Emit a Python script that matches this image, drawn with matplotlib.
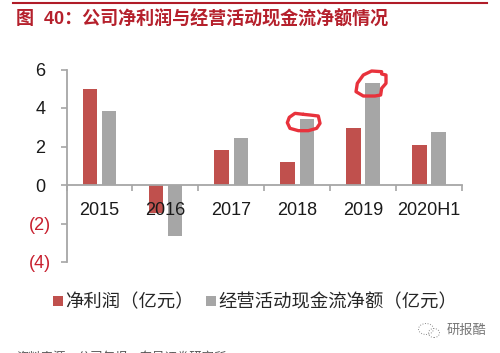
import matplotlib
matplotlib.use("Agg")
import matplotlib.pyplot as plt
from matplotlib.patches import Ellipse
import numpy as np

categories = ["2015", "2016", "2017", "2018", "2019", "2020H1"]
net_profit = [5.0, -1.45, 1.82, 1.21, 2.98, 2.10]
op_cash_flow = [3.84, -2.63, 2.44, 3.43, 5.30, 2.75]
y_ticks = [6, 4, 2, 0, -2, -4]
y_labels = ["6 ", "4 ", "2 ", "0 ", "(2)", "(4)"]
y_label_colors = ["#1a1a1a"] * 4 + ["#c8202f"] * 2
series_names = ["净利润（亿元）", "经营活动现金流净额（亿元）"]
title = "图  40：公司净利润与经营活动现金流净额情况"
source = "资料来源：公司年报，东吴证券研究所"
watermark = "研报酷"

# hand-drawn red loops around two bars, in data units
loop_2018_x = [3.093, 2.966, 2.880, 2.850, 2.890, 3.017, 3.169, 3.295, 3.346, 3.320, 3.194, 3.093]
loop_2018_y = [3.671, 3.723, 3.515, 3.238, 2.944, 2.822, 2.822, 2.944, 3.203, 3.584, 3.636, 3.671]
loop_2019_x = [4.281, 4.129, 4.003, 3.912, 3.892, 4.003, 4.180, 4.266, 4.281, 4.347, 4.347, 4.281]
loop_2019_y = [5.887, 5.922, 5.714, 5.281, 4.848, 4.623, 4.623, 4.675, 5.022, 5.281, 5.714, 5.766]

plt.rcParams["font.family"] = ["Liberation Sans", "Noto Sans CJK SC", "DejaVu Sans"]

W, H = 500, 353
fig = plt.figure(figsize=(W / 100, H / 100), dpi=100)
ax = fig.add_axes([66.5 / W, 1 - 262 / H, (462 - 66.5) / W, (262 - 69.5) / H])

x = np.arange(len(categories))
bw = 0.22
b1 = ax.bar(x - 0.145, net_profit, bw, color="#c0504d", zorder=2, label=series_names[0])
b2 = ax.bar(x + 0.145, op_cash_flow, bw, color="#a6a6a6", zorder=2, label=series_names[1])

ax.set_axisbelow(False)
ax.set_xlim(-0.5, len(categories) - 0.5)
ax.set_ylim(-4, 6)
for s in ("top", "right"):
    ax.spines[s].set_visible(False)
for s in ("left", "bottom"):
    ax.spines[s].set_color("#a6a6a6")
    ax.spines[s].set_linewidth(1.3)
ax.spines["bottom"].set_position(("data", 0))

ax.set_yticks(y_ticks)
ax.set_yticklabels(y_labels, fontsize=13)
for lbl, c in zip(ax.get_yticklabels(), y_label_colors):
    lbl.set_color(c)
ax.tick_params(axis="y", length=4, width=1.2, color="#a6a6a6", pad=7)

ax.set_xticks(np.arange(len(categories) + 1) - 0.5)
ax.set_xticklabels([])
ax.tick_params(axis="x", which="major", direction="out", length=4, width=1.2, color="#a6a6a6")
ax.set_xticks(x, minor=True)
ax.set_xticklabels(categories, minor=True, fontsize=13, color="#1a1a1a")
ax.tick_params(axis="x", which="minor", length=0, pad=12)

for lx, ly in ((loop_2018_x, loop_2018_y), (loop_2019_x, loop_2019_y)):
    ax.plot(lx, ly, color="#e8323c", lw=2.4, solid_capstyle="round", solid_joinstyle="round",
            zorder=4, clip_on=False)

ax.legend(handles=[b1, b2], loc="upper left", bbox_to_anchor=(53 / W, 1 - 294 / H),
          bbox_transform=fig.transFigure, ncol=2, frameon=False, fontsize=13.2,
          handlelength=0.52, handleheight=0.52, handletextpad=0.15, columnspacing=0.67,
          borderpad=0, borderaxespad=0, labelcolor="#262626")

fig.add_artist(plt.Line2D([13 / W, 487 / W], [1 - 2.5 / H] * 2, color="#b01c28", lw=1.5))
fig.text(16 / W, 1 - 19.5 / H, title, fontsize=13, fontweight="bold", color="#b5202c", va="center", ha="left")
fig.text(16 / W, 1 - 358 / H, source, fontsize=8.9, color="#555555", va="center", ha="left")
fig.text(447 / W, 1 - 331 / H, watermark, fontsize=9.5, color="#777777", va="center", ha="left")
for cx, cy, w, h in ((426, 329, 15, 11), (434, 333, 11, 9)):
    fig.add_artist(Ellipse((cx / W, 1 - cy / H), w / W, h / H, transform=fig.transFigure,
                           fill=False, ec="#8c8c8c", lw=0.7, ls=":"))
fig.savefig("out.png", dpi=100)
